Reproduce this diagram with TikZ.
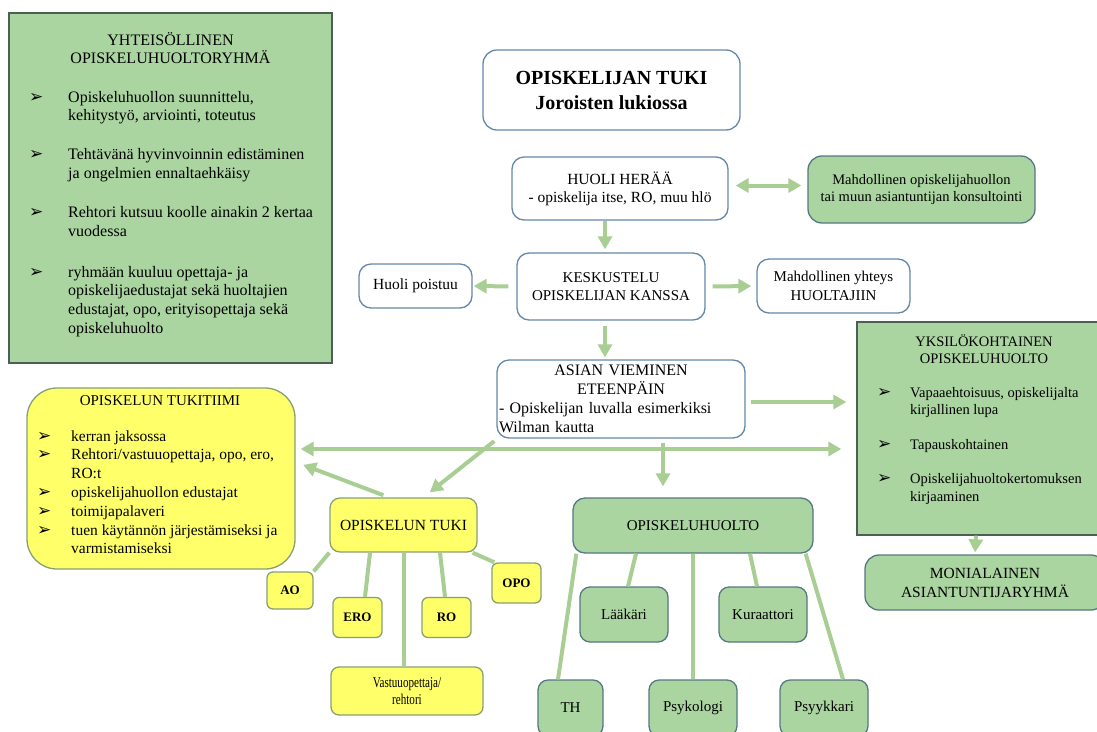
\documentclass[tikz,border=0pt]{standalone}
\usepackage{fontspec}
\usepackage{graphicx}
\setmainfont{Liberation Serif}
\newfontfamily\symfont{DejaVu Sans}
\usetikzlibrary{arrows.meta}
\setlength{\parindent}{0pt}

\definecolor{lgreen}{RGB}{170,212,160}
\definecolor{agreen}{RGB}{168,206,148}
\definecolor{lyellow}{RGB}{255,255,105}
\definecolor{bline}{RGB}{100,135,170}
\definecolor{tline}{RGB}{85,120,130}
\definecolor{gline}{RGB}{75,95,85}
\definecolor{yline}{RGB}{135,160,115}

\newcommand{\bul}{{\symfont\fontsize{17}{17}\selectfont ➢}}

\tikzset{
	every box/.style={draw=bline, line width=1.3pt, fill=white, rounded corners=12pt, align=center, inner sep=2pt, font=\fontsize{15}{18}\selectfont},
	green box/.style={every box, fill=lgreen, draw=tline},
	yellow box/.style={every box, fill=lyellow, draw=yline},
	plain box/.style={draw=gline, line width=1.3pt, fill=lgreen},
	small box/.style={yellow box, rounded corners=6pt, minimum width=49pt, minimum height=40pt, font=\fontsize{13}{15}\selectfont\bfseries},
	child box/.style={green box, rounded corners=10pt, minimum width=88pt, minimum height=55pt},
	ao/.style={minimum width=46pt, minimum height=37pt},
	th/.style={minimum width=65pt, minimum height=56pt},
	psykologi/.style={minimum height=56pt},
	psyykkari/.style={minimum height=56pt},
	label text/.style={inner sep=0pt},
	link/.style={draw=agreen, line width=4pt},
}

\begin{document}
\begin{tikzpicture}[x=1pt, y=-1pt, >={Triangle[length=13pt,width=14pt]}]
	\useasboundingbox (0,0) rectangle (1097,731);
	\clip (0,0) rectangle (1097,731);
	
	% vasen yläkulma
	\node [plain box, minimum width=323pt, minimum height=350pt] (yhteis) at (170.5,188) {};
	\node [label text, anchor=base, font=\fontsize{16}{18.5}\selectfont] (yhteis-title) at (170.5,45)
	{\begin{tabular}[t]{@{}c@{}}YHTEISÖLLINEN\\OPISKELUHUOLTORYHMÄ\end{tabular}};
	\node [label text, anchor=base west, font=\fontsize{16}{18.7}\selectfont] (yhteis-list) at (29,102)
	{\begin{tabular}[t]{@{}p{39pt}@{}l@{}}
		\bul & Opiskeluhuollon suunnittelu,\\
		& kehitystyö, arviointi, toteutus\\[20pt]
		\bul & Tehtävänä hyvinvoinnin edistäminen\\
		& ja ongelmien ennaltaehkäisy\\[21pt]
		\bul & Rehtori kutsuu koolle ainakin 2 kertaa\\
		& vuodessa\\[22pt]
		\bul & ryhmään kuuluu opettaja- ja\\
		& opiskelijaedustajat sekä huoltajien\\
		& edustajat, opo, erityisopettaja sekä\\
		& opiskeluhuolto
	\end{tabular}};
	
	% keskusta
	\node [every box, rounded corners=14pt, minimum width=257pt, minimum height=80pt, font=\fontsize{20}{25}\selectfont\bfseries] (title) at (611.5,90) {OPISKELIJAN TUKI\\Joroisten lukiossa};
	\node [every box, minimum width=216pt, minimum height=63pt, font=\fontsize{15.5}{18}\selectfont] (huoli) at (620,188.5) {HUOLI HERÄÄ\\- opiskelija itse, RO, muu hlö};
	\node [green box, rounded corners=14pt, minimum width=227pt, minimum height=67pt, font=\fontsize{14.5}{16.5}\selectfont] (konsult) at (921.5,189.5) {Mahdollinen opiskelijahuollon\\tai muun asiantuntijan konsultointi};
	\node [every box, minimum width=188pt, minimum height=67pt] (keskustelu) at (611,286.5) {KESKUSTELU\\OPISKELIJAN KANSSA};
	\node [every box, minimum width=113pt, minimum height=44pt, font=\fontsize{15.5}{18}\selectfont] (poistuu) at (415.5,286) {Huoli poistuu};
	\node [every box, minimum width=153pt, minimum height=54pt, font=\fontsize{15}{18.5}\selectfont] (yhteys) at (833.5,286) {Mahdollinen yhteys\\HUOLTAJIIN};
	\node [every box, minimum height=78pt, text width=244pt, align=left, font=\fontsize{16}{19}\selectfont] (asia) at (621,399)
	{{\centering ASIAN VIEMINEN\\ETEENPÄIN\par}- Opiskelijan luvalla esimerkiksi\\Wilman kautta};
	
	% oikea reuna
	\node [plain box, minimum width=250pt, minimum height=213pt] (yksilo) at (982,428.5) {};
	\node [label text, anchor=base, font=\fontsize{14.5}{16.5}\selectfont] (yksilo-title) at (984,346.5)
	{\begin{tabular}[t]{@{}c@{}}YKSILÖKOHTAINEN\\OPISKELUHUOLTO\end{tabular}};
	\node [label text, anchor=base west, font=\fontsize{14.5}{17.5}\selectfont] (yksilo-list) at (877,397)
	{\begin{tabular}[t]{@{}p{33pt}@{}l@{}}
		\bul & Vapaaehtoisuus, opiskelijalta\\
		& kirjallinen lupa\\[17pt]
		\bul & Tapauskohtainen\\[17pt]
		\bul & Opiskelijahuoltokertomuksen\\
		& kirjaaminen
	\end{tabular}};
	\node [green box, rounded corners=14pt, minimum width=240pt, minimum height=55pt, font=\fontsize{15.5}{19}\selectfont] (monial) at (985,582.5) {MONIALAINEN\\ASIANTUNTIJARYHMÄ};
	
	% tukitiimi
	\node [yellow box, rounded corners=30pt, minimum width=268pt, minimum height=181pt] (tukitiimi) at (161,478.5) {};
	\node [label text, anchor=base, font=\fontsize{15}{18}\selectfont] (tukitiimi-title) at (160,405) {OPISKELUN TUKITIIMI};
	\node [label text, anchor=base west, font=\fontsize{15.5}{18.8}\selectfont] (tukitiimi-list) at (37,441)
	{\begin{tabular}[t]{@{}p{34pt}@{}l@{}}
		\bul & kerran jaksossa\\
		\bul & Rehtori/vastuuopettaja, opo, ero,\\
		& RO:t\\
		\bul & opiskelijahuollon edustajat\\
		\bul & toimijapalaveri\\
		\bul & tuen käytännön järjestämiseksi ja\\
		& varmistamiseksi
	\end{tabular}};
	
	\node [yellow box, rounded corners=10pt, minimum width=147pt, minimum height=54pt, font=\fontsize{15.5}{18}\selectfont] (ytuki) at (403.5,525) {OPISKELUN TUKI};
	
	\foreach \n/\t/\x/\y in {ao/AO/290/590.5, ero/ERO/357.5/617.5, ro/RO/446.5/617.5, opo/OPO/516.5/583}
	\node [small box, \n/.try] (\n) at (\x,\y) {\t};
	
	\node [yellow box, rounded corners=8pt, minimum width=152pt, minimum height=48pt, font=\fontsize{15}{17.5}\selectfont] (vastuu) at (407,691)
	{\scalebox{0.74}[1]{Vastuuopettaja/}\\\scalebox{0.74}[1]{rehtori}};
	
	% opiskeluhuolto
	\node [green box, minimum width=240pt, minimum height=55pt] (huolto) at (693,525.5) {OPISKELUHUOLTO};
	
	\foreach \n/\t/\x/\y in {laakari/Lääkäri/624/614.5, kuraattori/Kuraattori/763/614.5, th/TH/570.5/708, psykologi/Psykologi/693/708, psyykkari/Psyykkari/824/708}
	\node [child box, \n/.try] (\n) at (\x,\y) {\t};
	
	% nuolet
	\draw [link, ->, shorten >=3pt] ([xshift=-15pt]huoli.south) -- ([xshift=-6pt]keskustelu.north);
	\draw [link, ->, shorten <=5pt, shorten >=2pt] ([xshift=-6pt]keskustelu.south) -- ([xshift=-16pt]asia.north);
	\draw [link, ->, shorten <=8pt, shorten >=1pt] (keskustelu.west) -- (poistuu.east);
	\draw [link, ->, shorten <=7pt, shorten >=5pt] (keskustelu.east) -- (yhteys.west);
	\draw [link, <->, shorten <=7pt, shorten >=6pt] ([yshift=3pt]huoli.east) -- ([yshift=4pt]konsult.west);
	
	\coordinate (aright) at ([yshift=-3pt]asia.east);
	\draw [link, ->, shorten <=5pt, shorten >=10pt] (aright) -- (aright -| yksilo.west);
	
	\coordinate (hline) at ([yshift=29.5pt]tukitiimi.east);
	\draw [link, <->, shorten <=5pt, shorten >=15pt] (hline) -- (hline -| yksilo.west);
	
	\draw [link, ->, shorten <=4pt, shorten >=8pt] ([xshift=1pt]asia.south west) -- ([xshift=20pt]ytuki.north);
	\draw [link, ->, shorten <=6pt, shorten >=8pt] ([xshift=-14.5pt]ytuki.north) -- ([yshift=16.5pt]tukitiimi.east);
	
	\coordinate (adown) at ([xshift=42pt]asia.south);
	\draw [link, ->, shorten <=4pt, shorten >=11pt] (adown) -- (adown |- huolto.north);
	
	\draw [link, ->, shorten >=2pt] ([xshift=-6pt]yksilo.south) -- ([xshift=-10pt]monial.north);
	
	% viivat
	\draw [link] (ytuki.south west) -- (ao.north east);
	\draw [link] ([xshift=-33.5pt]ytuki.south) -- ([xshift=7.5pt]ero.north);
	\draw [link] (ytuki.south) -- (ytuki.south |- vastuu.north);
	\draw [link] ([xshift=36.5pt]ytuki.south) -- ([xshift=-1.5pt]ro.north);
	\draw [link] ([xshift=-5pt]ytuki.south east) -- ([xshift=3pt]opo.north west);
	
	\draw [link] ([xshift=4pt]huolto.south west) -- ([xshift=-12.5pt]th.north);
	\draw [link] ([xshift=-57pt]huolto.south) -- ([xshift=4pt]laakari.north);
	\draw [link] (huolto.south) -- (psykologi.north);
	\draw [link] ([xshift=57pt]huolto.south) -- ([xshift=-6pt]kuraattori.north);
	\draw [link] ([xshift=-8pt]huolto.south east) -- ([xshift=19pt]psyykkari.north);
\end{tikzpicture}
\end{document}
